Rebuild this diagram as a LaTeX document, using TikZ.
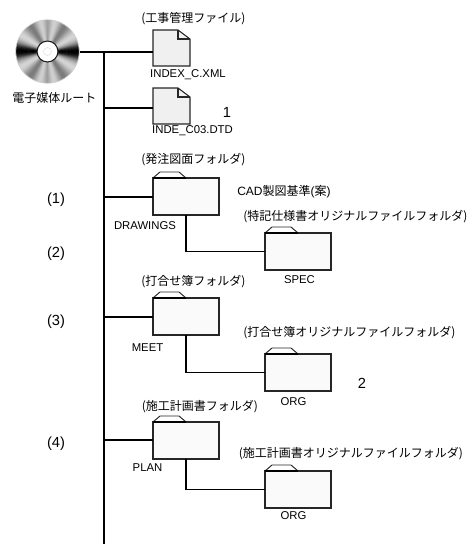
\documentclass[tikz,border=0pt]{standalone}
\usepackage{fontspec}
\setmainfont{Liberation Sans}
\newfontfamily\cjk{Noto Sans CJK JP}
\usetikzlibrary{calc}
\tikzset{
  x=0.75pt,y=-0.75pt,
  folderbox/.style={draw=black!85,fill=black!2,line width=0.8pt,minimum width=49.5pt,minimum height=27.75pt,inner sep=0pt,outer sep=0pt},
  filebox/.style={minimum width=27.75pt,minimum height=27pt,inner sep=0pt,outer sep=0pt},
  trunkline/.style={line width=1.1pt,black},
  branchline/.style={line width=0.9pt,black},
  ja/.style={font=\fontsize{9pt}{10pt}\selectfont\cjk,inner sep=0pt,anchor=west},
  latin/.style={font=\fontsize{8.5pt}{10pt}\selectfont,inner sep=0pt},
  num/.style={font=\fontsize{11pt}{12pt}\selectfont,inner sep=0pt},
}
\newcommand{\filedoc}[3]{%
  \node[filebox] (#1) at (#2,#3) {};
  \draw[draw=black!85,fill=black!6,line width=0.8pt,line join=miter]
    (#1.north west) -- ($(#1.north east)+(-12,0)$) -- ($(#1.north east)+(0,9)$) -- (#1.south east) -- (#1.south west) -- cycle;
  \draw[draw=black!85,line width=0.8pt] ($(#1.north east)+(-12,0)$) -- ($(#1.north east)+(-12,9)$) -- ($(#1.north east)+(0,9)$);
}
\newcommand{\folderdoc}[3]{%
  \node[folderbox] (#1) at (#2,#3) {};
  \draw[draw=black!85,fill=white,line width=0.7pt] (#1.north west) -- ($(#1.north west)+(7,-6)$) -- ($(#1.north west)+(26,-6)$) -- ($(#1.north west)+(33,0)$);
  \draw[line width=1.1pt] (#1.north west) -- ($(#1.north west)+(33,0)$);
}
\begin{document}
\begin{tikzpicture}
\useasboundingbox (0,0) rectangle (468,544);
% disc: grey level by angle away from the horizontal axis, every 5 degrees from 0 to 90
\node[circle,minimum size=47.5pt,inner sep=0pt,outer sep=0pt] (cd) at (47.5,51.5) {};
\def\greys{{100,95,78,52,34,22,16,18,26,36,46,52,50,38,26,18,20,30,38,38,38}}
\fill[black!30] (47.5,51.5) circle (31.5*0.75pt);
\foreach \a in {0,2,...,358}{
  \pgfmathsetmacro{\h}{abs(mod(\a+90,180)-90)}
  \pgfmathtruncatemacro{\i}{floor(\h/5)}
  \pgfmathtruncatemacro{\j}{\i+1}
  \pgfmathsetmacro{\g}{\greys[\i]+(\greys[\j]-\greys[\i])*(\h/5-\i)}
  \fill[black!\g!white,shift={(47.5,51.5)}] (0,0) -- (\a+1.6:23.75pt) arc[start angle=\a+1.6,end angle=\a-1.6,radius=23.75pt] -- cycle;
}
\draw[black!18,line width=0.5pt] (47.5,51.5) circle (31.7*0.75pt);
\fill[black!90] (47.5,51.5) circle (11*0.75pt);
\fill[white] (47.5,51.5) circle (9.8*0.75pt);
\draw[black!12,line width=0.4pt] (47.5,51.5) circle (4*0.75pt);

\coordinate (t0) at (104,52);
\coordinate (t1) at (104,108);
\coordinate (t2) at (104,197);
\coordinate (t3) at (104,317);
\coordinate (t4) at (104,440);
\coordinate (tend) at (104,544);
\coordinate (cdr) at (80,52);

\filedoc{xml}{171.5}{48}
\filedoc{dtd}{171.5}{106}
\folderdoc{drawings}{186}{196.5}
\folderdoc{spec}{298}{251.5}
\folderdoc{meet}{186}{316.5}
\folderdoc{org}{298}{372.5}
\folderdoc{plan}{186}{440.5}
\folderdoc{orgb}{298}{489.5}

\draw[trunkline] (t0) -- (tend);
\draw[branchline] (cdr) -- (t0 -| xml.west);
\draw[branchline] (t1) -- (t1 -| dtd.west);
\draw[branchline] (t2) -- (t2 -| drawings.west);
\draw[branchline] (t3) -- (t3 -| meet.west);
\draw[branchline] (t4) -- (t4 -| plan.west);
\draw[branchline] (drawings.south) |- (spec.west);
\draw[branchline] (meet.south) |- (org.west);
\draw[branchline] (plan.south) |- (orgb.west);

\node[ja,anchor=center] (root) at (54.5,98) {電子媒体ルート};
\node[ja] (l1) at (141,19) {(工事管理ファイル)};
\node[latin] (l2) at (188,75) {INDEX\_C.XML};
\node[latin] (l3) at (192.5,131) {INDE\_C03.DTD};
\node[num] (l4) at (227,112) {1};
\node[ja] (l5) at (141,160) {(発注図面フォルダ)};
\node[ja,anchor=west] (l6) at (237,192) {{\rmfamily CAD}製図基準{\rmfamily (}案{\rmfamily )}};
\node[latin] (l7) at (145,226) {DRAWINGS};
\node[ja] (l8) at (243,217) {(特記仕様書オリジナルファイルフォルダ)};
\node[latin] (l9) at (299.5,280) {SPEC};
\node[ja] (l10) at (141,282) {(打合せ簿フォルダ)};
\node[latin] (l11) at (147.5,348) {MEET};
\node[ja] (l12) at (243,333) {(打合せ簿オリジナルファイルフォルダ)};
\node[latin] (l13) at (293.5,402) {ORG};
\node[num] (l14) at (362,383) {2};
\node[ja] (l15) at (141.5,407) {(施工計画書フォルダ)};
\node[latin] (l16) at (147.5,468) {PLAN};
\node[ja] (l17) at (238.5,454) {(施工計画書オリジナルファイルフォルダ)};
\node[latin] (l18) at (293.5,516) {ORG};
\node[num] (n1) at (56,200) {(1)};
\node[num] (n2) at (56,254) {(2)};
\node[num] (n3) at (56,322) {(3)};
\node[num] (n4) at (56,444) {(4)};
\end{tikzpicture}
\end{document}
